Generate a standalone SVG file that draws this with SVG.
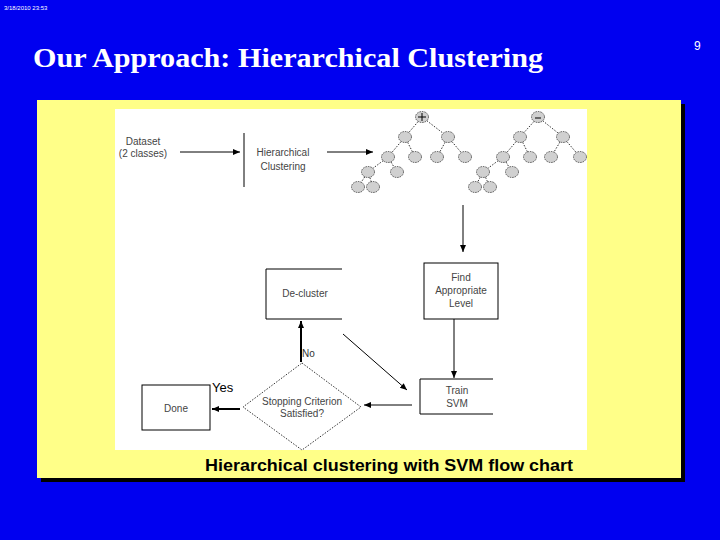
<svg xmlns="http://www.w3.org/2000/svg" width="720" height="540" viewBox="0 0 720 540">
<defs>
<style>
.hdr{font-family:"Liberation Sans",Arial,sans-serif;fill:#fff}
.title{font-family:"Liberation Serif","Times New Roman",serif;font-weight:bold;font-size:28px;fill:#fff}
.lbl{font-family:"Liberation Sans",Arial,sans-serif;font-size:10px;fill:#444;text-anchor:middle}
.box{fill:#fff;stroke:#000;stroke-width:1}
.edge{stroke:#000;stroke-width:1;fill:none}
.thick{stroke:#000;stroke-width:2;fill:none}
.dot{stroke:#000;stroke-width:0.8;stroke-dasharray:1.5 1.5;fill:none}
.tn{fill:#d0d0d0;stroke:#333;stroke-width:0.8;stroke-dasharray:1.5 1}
</style>
<marker id="ah" markerWidth="8" markerHeight="8" refX="7" refY="4" orient="auto" markerUnits="userSpaceOnUse">
<path d="M0,1 L7,4 L0,7 Z" fill="#000"/>
</marker>
</defs>
<rect width="720" height="540" fill="#0000f0"/>
<text class="hdr" x="4" y="10" font-size="6">3/18/2010 23:53</text>
<text class="hdr" x="694" y="50" font-size="12">9</text>
<text class="title" x="33" y="67" textLength="510" lengthAdjust="spacingAndGlyphs">Our Approach: Hierarchical Clustering</text>
<rect x="41" y="104" width="644" height="378" fill="#000"/>
<rect x="37" y="100" width="644" height="378" fill="#ffff88"/>
<rect x="115" y="109" width="472" height="341" fill="#fff"/>
<text x="389" y="471" font-family="'Liberation Sans',Arial,sans-serif" font-weight="bold" font-size="17" fill="#000" text-anchor="middle" textLength="368" lengthAdjust="spacingAndGlyphs">Hierarchical clustering with SVM flow chart</text>

<g id="connectors">
<line class="edge" x1="180" y1="152" x2="240" y2="152" marker-end="url(#ah)"/>
<line class="edge" x1="244" y1="133" x2="244" y2="187"/>
<line class="edge" x1="327" y1="152" x2="373" y2="152" marker-end="url(#ah)"/>
<line class="edge" x1="463" y1="205" x2="463" y2="252" marker-end="url(#ah)"/>
<line class="edge" x1="454" y1="319" x2="454" y2="378" marker-end="url(#ah)"/>
<line class="edge" x1="343" y1="334" x2="407" y2="390" marker-end="url(#ah)"/>
<line class="edge" x1="412" y1="405" x2="364" y2="405" marker-end="url(#ah)"/>
<line class="thick" x1="301" y1="362" x2="301" y2="321" marker-end="url(#ah)"/>
<line class="thick" x1="240" y1="409" x2="212" y2="409" marker-end="url(#ah)"/>
<text x="302" y="357" font-family="'Liberation Sans',Arial,sans-serif" font-size="10" fill="#333">No</text>
<text x="212" y="392" font-family="'Liberation Sans',Arial,sans-serif" font-size="13" fill="#000">Yes</text>
</g>

<g id="dataset">
<text class="lbl" x="143" y="145">Dataset</text>
<text class="lbl" x="143" y="157">(2 classes)</text>
</g>
<g id="hier">
<text class="lbl" x="283" y="156">Hierarchical</text>
<text class="lbl" x="283" y="170">Clustering</text>
</g>

<g id="tree-pos">
<path class="dot" d="M422,117 L405,137 M422,117 L448,137 M405,137 L388,157 M405,137 L415,157 M448,137 L437,157 M448,137 L465,157 M388,157 L368,172 M388,157 L397,172 M368,172 L358,187 M368,172 L373,187"/>
<ellipse class="tn" cx="422" cy="117" rx="6.5" ry="5.5"/>
<path d="M418,117 H426 M422,113 V121" stroke="#000" stroke-width="1"/>
<ellipse class="tn" cx="405" cy="137" rx="6.5" ry="5.5"/>
<ellipse class="tn" cx="448" cy="137" rx="6.5" ry="5.5"/>
<ellipse class="tn" cx="388" cy="157" rx="6.5" ry="5.5"/>
<ellipse class="tn" cx="415" cy="157" rx="6.5" ry="5.5"/>
<ellipse class="tn" cx="437" cy="157" rx="6.5" ry="5.5"/>
<ellipse class="tn" cx="465" cy="157" rx="6.5" ry="5.5"/>
<ellipse class="tn" cx="368" cy="172" rx="6.5" ry="5.5"/>
<ellipse class="tn" cx="397" cy="172" rx="6.5" ry="5.5"/>
<ellipse class="tn" cx="358" cy="187" rx="6.5" ry="5.5"/>
<ellipse class="tn" cx="373" cy="187" rx="6.5" ry="5.5"/>
</g>
<g id="tree-neg">
<path class="dot" d="M538,117 L520,137 M538,117 L563,137 M520,137 L503,157 M520,137 L530,157 M563,137 L551,157 M563,137 L580,157 M503,157 L483,172 M503,157 L512,172 M483,172 L475,187 M483,172 L490,187"/>
<ellipse class="tn" cx="538" cy="117" rx="6.5" ry="5.5"/>
<path d="M535,118 H541" stroke="#000" stroke-width="1"/>
<ellipse class="tn" cx="520" cy="137" rx="6.5" ry="5.5"/>
<ellipse class="tn" cx="563" cy="137" rx="6.5" ry="5.5"/>
<ellipse class="tn" cx="503" cy="157" rx="6.5" ry="5.5"/>
<ellipse class="tn" cx="530" cy="157" rx="6.5" ry="5.5"/>
<ellipse class="tn" cx="551" cy="157" rx="6.5" ry="5.5"/>
<ellipse class="tn" cx="580" cy="157" rx="6.5" ry="5.5"/>
<ellipse class="tn" cx="483" cy="172" rx="6.5" ry="5.5"/>
<ellipse class="tn" cx="512" cy="172" rx="6.5" ry="5.5"/>
<ellipse class="tn" cx="475" cy="187" rx="6.5" ry="5.5"/>
<ellipse class="tn" cx="490" cy="187" rx="6.5" ry="5.5"/>
</g>

<g id="find">
<rect class="box" x="424" y="263" width="74" height="56"/>
<text class="lbl" x="461" y="281">Find</text>
<text class="lbl" x="461" y="294">Appropriate</text>
<text class="lbl" x="461" y="307">Level</text>
</g>
<g id="decluster">
<path class="edge" d="M342,269 H266 V319 H342"/>
<text class="lbl" x="305" y="297">De-cluster</text>
</g>
<g id="train">
<path class="edge" d="M493,379 H420 V414 H493"/>
<text class="lbl" x="457" y="394">Train</text>
<text class="lbl" x="457" y="407">SVM</text>
</g>
<g id="stop">
<path class="dot" d="M302,363 L361,407 L302,450 L243,407 Z"/>
<text class="lbl" x="302" y="405">Stopping Criterion</text>
<text class="lbl" x="302" y="417">Satisfied?</text>
</g>
<g id="done">
<rect class="box" x="142" y="385" width="68" height="45"/>
<text class="lbl" x="176" y="412">Done</text>
</g>
</svg>
